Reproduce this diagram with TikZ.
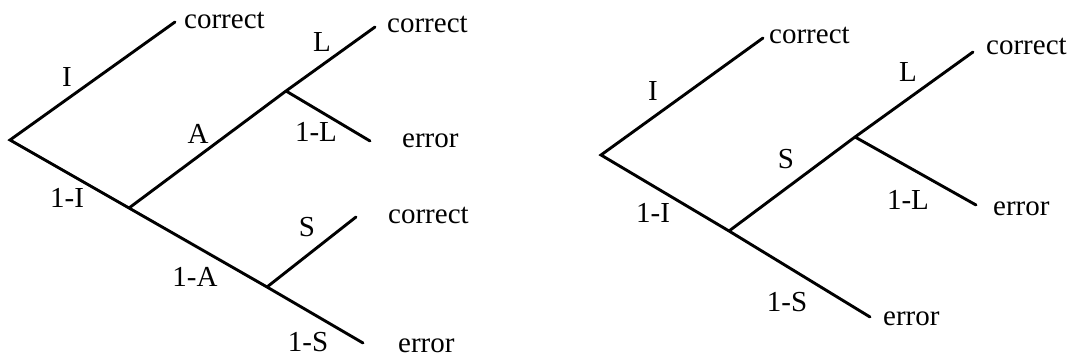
\documentclass[tikz,border=0pt]{standalone}
\usepackage{fontspec}
\setmainfont{Liberation Serif}
\begin{document}
\begin{tikzpicture}[x=1pt,y=-1pt,
  br/.style={line width=2.9pt,line cap=round,line join=miter},
  lab/.style={inner sep=0pt,font=\fontsize{29}{31}\selectfont},
  endl/.style={lab,anchor=base west}]
\useasboundingbox (0,0) rectangle (1073,358);
% left tree
\coordinate (r1) at (10,140);
\coordinate (c1) at (175,22);
\coordinate (n1) at (129,208);
\coordinate (a1) at (286,91);
\coordinate (l1) at (375,27);
\coordinate (e1) at (370,141);
\coordinate (s1) at (267,287);
\coordinate (sc1) at (356,217);
\coordinate (se1) at (363,343);
\draw[br] (c1) -- (r1) -- (n1) -- (s1) -- (se1);
\draw[br] (n1) -- (a1) -- (l1);
\draw[br] (a1) -- (e1);
\draw[br] (s1) -- (sc1);
\node[endl] (tc1) at (184,29) {correct};
\node[endl] (tc2) at (387,33) {correct};
\node[endl] (te1) at (402,148) {error};
\node[endl] (tc3) at (388,223) {correct};
\node[endl] (te2) at (398,352) {error};
\node[lab] (lI) at (67,77) {I};
\node[lab] (lA) at (198,134) {A};
\node[lab] (lL) at (322,42) {L};
\node[lab] (l1L) at (316,132) {1-L};
\node[lab] (l1I) at (67,198) {1-I};
\node[lab] (lS) at (307,227) {S};
\node[lab] (l1A) at (195,277) {1-A};
\node[lab] (l1S) at (308,342) {1-S};
% right tree
\coordinate (r2) at (601,155);
\coordinate (c2) at (763,38);
\coordinate (n2) at (729,231);
\coordinate (j2) at (855,137);
\coordinate (l2) at (973,52);
\coordinate (e2) at (976,205);
\coordinate (se2) at (870,317);
\draw[br] (c2) -- (r2) -- (n2) -- (se2);
\draw[br] (n2) -- (j2) -- (l2);
\draw[br] (j2) -- (e2);
\node[endl] (rc1) at (769,44) {correct};
\node[endl] (rc2) at (986,55) {correct};
\node[endl] (re1) at (993,215) {error};
\node[endl] (re2) at (883,325) {error};
\node[lab] (rI) at (653,91) {I};
\node[lab] (rS) at (786,159) {S};
\node[lab] (rL) at (908,72) {L};
\node[lab] (r1L) at (908,200) {1-L};
\node[lab] (r1I) at (653,213) {1-I};
\node[lab] (r1S) at (787,302) {1-S};
\end{tikzpicture}
\end{document}
